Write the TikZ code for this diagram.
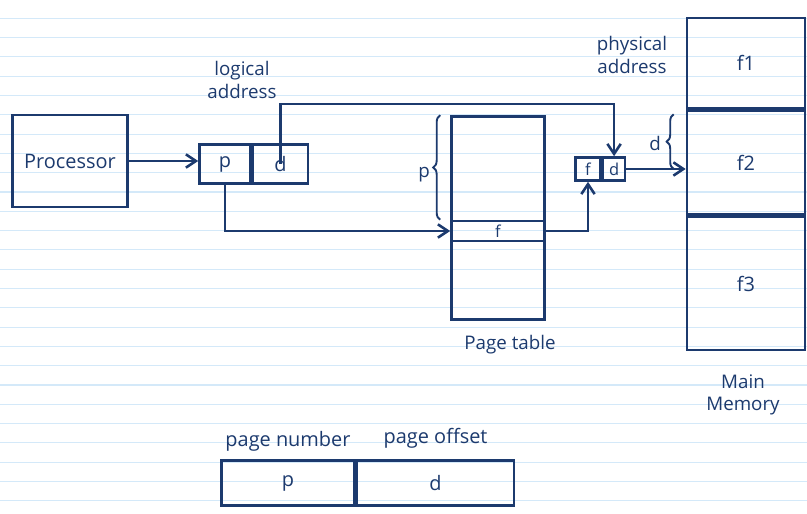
\documentclass[tikz,border=0pt]{standalone}
\definecolor{inkBlue}{RGB}{28,58,110}
\definecolor{ruleBlue}{RGB}{212,233,249}
\usepackage{fontspec}
\setmainfont{Open Sans}
\usepackage{tikz}
\usetikzlibrary{arrows.meta,positioning,calc,decorations.pathreplacing}

\begin{document}
\begin{tikzpicture}[x=0.03cm, y=-0.03cm,
  ink/.style={draw=inkBlue, line width=2.2pt},
  box/.style={ink, inner sep=0pt, text=inkBlue, font=\fontsize{17}{20}\selectfont},
  small/.style={font=\fontsize{14}{16}\selectfont},
  lbl/.style={text=inkBlue, align=center, font=\fontsize{16}{19}\selectfont},
  arr/.style={ink, -{Straight Barb[length=3mm, width=4mm]}},
  brc/.style={ink, line width=1.6pt, decorate, decoration={brace, amplitude=6pt}},
  ruled/.style={draw=ruleBlue, line width=0.9pt}
]
  % lined paper
  \useasboundingbox (0,0) rectangle (807,514);
  \fill[white] (0,0) rectangle (807,514);
  \foreach \k in {0,...,26}
    \draw[ruled] (0,{-1+19.3*\k}) -- (807,{-1+19.3*\k});

  % processor and logical address
  \node[box, minimum width=3.45cm, minimum height=2.76cm] (proc) at (70,161) {Processor};
  \node[box, minimum width=1.53cm, minimum height=1.17cm] (lp) at (225,164) {p};
  \node[box, minimum width=1.65cm, minimum height=1.17cm, right=0pt of lp] (ld) {d};
  \node[lbl] (lalbl) at (242,80) {logical\\address};

  % page table
  \node[box, minimum width=2.79cm, minimum height=6.09cm] (pt) at (498,218) {};
  \node[box, small, minimum width=2.79cm, minimum height=0.6cm] (row) at (498,231) {f};
  \node[lbl] (ptlbl) at (510,345) {Page table};
  \draw[brc] (pt.west |- row.north) ++(-10,0) coordinate (pb) -- (pb |- pt.north);
  \node[lbl] (plbl) at (424,175) {p};

  % physical address
  \node[box, small, minimum width=0.75cm, minimum height=0.69cm] (ff) at (588,169) {f};
  \node[box, small, minimum width=0.66cm, minimum height=0.69cm, right=0pt of ff] (fd) {d};
  \node[lbl] (palbl) at (632,55) {physical\\address};

  % main memory
  \node[box, minimum width=3.54cm, minimum height=2.7cm] (f1) at (746,63) {f1};
  \node[box, minimum width=3.54cm, minimum height=3.12cm, below=0pt of f1] (f2) {f2};
  \node[box, minimum width=3.54cm, minimum height=3.99cm, below=0pt of f2] (f3) {f3};
  \node[lbl] (mmlbl) at (743,395) {Main\\Memory};
  \coordinate (dtop) at ($(f2.north west)+(-12,5)$);
  \draw[brc] (dtop |- fd.east) -- (dtop);
  \node[lbl] (dlbl) at (655,143) {d};

  % connectors
  \draw[arr] (proc.east) -- (proc.east -| lp.west);
  \draw[arr] (ld.center) -- ++(0,-60) -| (fd.north);
  \draw[arr] (lp.south) |- (row.west);
  \draw[arr] (row.east) -| (ff.south);
  \draw[arr] (fd.east) -- (fd.east -| f2.west);

  % address format
  \node[box, minimum width=3.99cm, minimum height=1.35cm] (bp) at (288,483) {p};
  \node[box, minimum width=4.71cm, minimum height=1.35cm, right=0pt of bp] (bd) {d};
  \node[lbl, font=\fontsize{17}{20}\selectfont, above=3pt of bp] (pnlbl) {page number};
  \node[lbl, font=\fontsize{17}{20}\selectfont, above=6pt of bd] (polbl) {page offset};
\end{tikzpicture}
\end{document}
